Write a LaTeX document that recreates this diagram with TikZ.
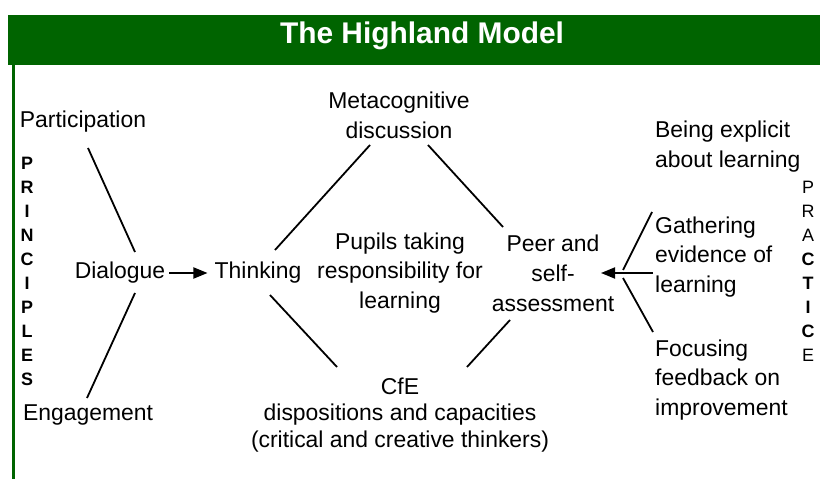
\documentclass[tikz,border=0pt]{standalone}
\usepackage{fontspec}
\setmainfont{Liberation Sans}
\usepackage{tikz}
\usetikzlibrary{arrows.meta,positioning}
\definecolor{hlgreen}{RGB}{0,100,0}

\begin{document}
\begin{tikzpicture}[
        x=1bp, y=-1bp,
        >={Triangle[length=14bp,width=11bp]},
        every node/.style={inner sep=0pt, font=\fontsize{23}{30}\selectfont},
        block/.style={align=center},
        leftblock/.style={align=left, anchor=west},
        vlet/.style={font=\fontsize{18}{18}\selectfont},
        link/.style={line width=1.8bp},
        title/.style={text=white, font=\fontsize{30}{34}\selectfont\bfseries}
        ]
    \useasboundingbox (0,0) rectangle (820,479);

        % Frame
        \fill[hlgreen] (8,15) rectangle (820,65);
        \fill[hlgreen] (12,65) rectangle (15,479);
        \node[title] (head) at (422,36) {The Highland Model};

        % Side letters
        \foreach \l [count=\i from 0] in {P,R,I,N,C,I,P,L,E,S}
            \node[vlet, font=\fontsize{18}{18}\selectfont\bfseries] (prin\i) at (27,{163+24*\i}) {\l};
        \foreach \l [count=\i from 0] in {P,R,A,\textbf{C},\textbf{T},\textbf{I},\textbf{C},E}
            \node[vlet] (prac\i) at (808,{187+24*\i}) {\l};

        % Nodes
        \node (part) at (83,122) {Participation};
        \node (eng) at (88,415) {Engagement};
        \node (dial) at (120,273) {Dialogue};
        \node (think) at (258,273) {Thinking};
        \node[block] (meta) at (399,115) {Metacognitive\\discussion};
        \node[block] (pupils) at (400,273) {Pupils taking\\responsibility for\\learning};
        \node[block] (peer) at (553,273) {Peer and\\self-\\assessment};
        \node[block, font=\fontsize{23}{27}\selectfont] (cfe) at (400,415) {CfE\\dispositions and capacities\\(critical and creative thinkers)};
        \node[leftblock] (expl) at (655,147) {Being explicit\\about learning};
        \node[leftblock] (gath) at (655,257) {Gathering\\evidence of\\learning};
        \node[leftblock] (focus) at (655,380) {Focusing\\feedback on\\improvement};

        % Edges
        \draw[link] ([shift={(5,26)}]part.center) -- ([shift={(15,-21)}]dial.center);
        \draw[link] ([shift={(-1,-17)}]eng.center) -- ([shift={(15,20)}]dial.center);
        \draw[link, ->, shorten <=4bp, shorten >=7bp] (dial.east) -- (think.west);
        \draw[link] ([shift={(17,-23)}]think.center) -- ([shift={(-29,30)}]meta.center);
        \draw[link] ([shift={(12,22)}]think.center) -- ([shift={(-63,-48)}]cfe.center);
        \draw[link] ([shift={(29,30)}]meta.center) -- ([shift={(-50,-46)}]peer.center);
        \draw[link] ([shift={(-43,47)}]peer.center) -- ([shift={(67,-48)}]cfe.center);
        \draw[link] ([shift={(-3,-45)}]gath.west) -- ([shift={(70,-3)}]peer.center);
        \draw[link] ([shift={(-2,-48)}]focus.west) -- ([shift={(70,5)}]peer.center);
        \draw[link, ->] ([shift={(-2,16)}]gath.west) -- ([shift={(48,0)}]peer.center);

    \end{tikzpicture}
\end{document}
